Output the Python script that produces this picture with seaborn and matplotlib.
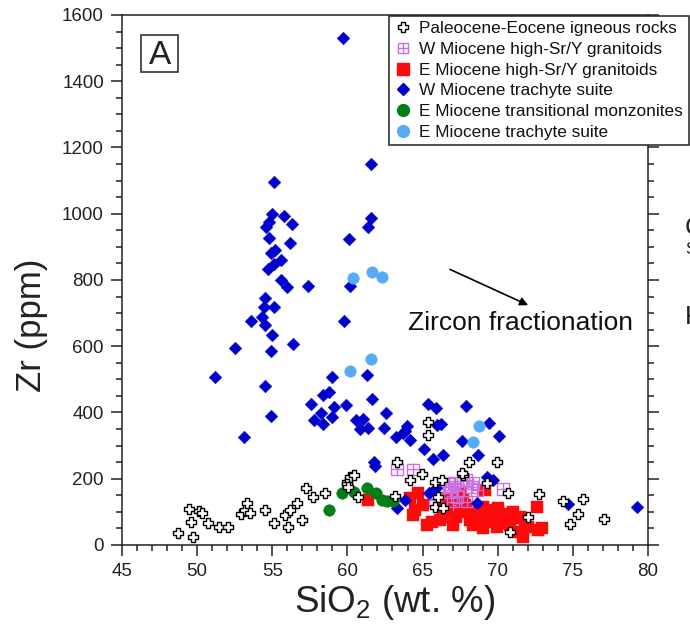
import matplotlib
matplotlib.use("Agg")
import matplotlib.pyplot as plt
from matplotlib.lines import Line2D
from matplotlib.legend_handler import HandlerTuple
from matplotlib.patches import Rectangle
import seaborn as sns

# --- data: SiO2 (wt.%) vs Zr (ppm) ---
pe_sio2 = [48.75, 49.46, 49.57, 49.7, 50.12, 50.34, 50.75, 51.45, 52.07, 52.9,
           53.18, 53.3, 53.52, 54.51, 55.11, 55.85, 56.18, 56.07, 56.62, 56.95,
           57.24, 57.73, 58.5, 59.95, 60.17, 60.43, 59.95, 60.06, 60.72, 63.16,
           63.32, 64.16, 64.94, 65.38, 65.38, 65.83, 66.27, 66.05, 65.83, 66.38,
           67.66, 68.1, 69.93, 69.27, 70.7, 72.03, 70.82, 72.77, 74.36, 75.65,
           75.36, 74.81, 77.09, 67.6]
pe_zr = [35, 110, 70, 25, 103, 96, 65, 53, 53, 94,
         106, 126, 97, 106, 65, 90, 106, 53, 128, 75,
         173, 146, 156, 191, 206, 211, 184, 176, 146, 148,
         251, 196, 214, 372, 332, 191, 196, 146, 116, 111,
         211, 251, 251, 186, 156, 85, 40, 154, 133, 138,
         94, 63, 78, 216]

wg_sio2 = [63.28, 64.38, 66.78, 66.89, 67.09, 67.71, 67.93, 68.38, 68.27, 66.82,
           67.38, 68.6, 65.83, 65.94, 67.27, 70.37, 67.93, 67.04]
wg_zr = [228, 228, 183, 176, 186, 194, 196, 186, 176, 161,
         166, 166, 136, 156, 146, 168, 131, 131]

eg_sio2 = [61.39, 64.16, 64.72, 64.49, 64.38, 65.27, 65.6, 66.16, 66.38, 66.38,
           66.6, 66.49, 67.04, 67.49, 67.71, 67.49, 68.04, 68.15, 68.38, 69.15,
           69.04, 68.93, 69.37, 69.7, 70.04, 70.26, 70.6, 71.04, 71.48, 71.37,
           71.71, 72.6, 72.71, 72.93, 69.93, 69.04, 68.71, 67.0, 67.8, 66.2,
           70.4, 71.0, 68.5, 65.0, 69.5, 70.8, 71.8, 72.0, 67.2]
eg_zr = [136, 141, 156, 106, 90, 60, 70, 75, 85, 141,
         121, 100, 60, 156, 136, 100, 111, 75, 60, 166,
         116, 80, 70, 106, 111, 75, 65, 80, 85, 40,
         25, 116, 45, 50, 55, 50, 100, 140, 120, 130,
         95, 100, 90, 120, 85, 60, 70, 55, 85]

wt_sio2 = [59.7, 61.6, 55.1, 55.0, 55.8, 61.6, 56.3, 54.8, 61.35, 54.6,
           60.1, 54.8, 56.2, 54.9, 55.2, 55.6, 55.1, 54.7, 55.6, 56.0,
           57.35, 60.2, 54.5, 54.45, 55.1, 54.3, 53.6, 59.8, 54.5, 55.0,
           56.4, 52.5, 54.9, 51.2, 59.0, 61.3, 54.5, 58.8, 58.4, 61.65,
           57.55, 59.9, 59.1, 58.25, 62.6, 54.9, 58.95, 61.05, 60.6, 57.75,
           58.35, 63.95, 60.85, 61.35, 62.45, 63.8, 63.7, 64.15, 63.25, 53.1,
           65.35, 65.9, 67.9, 65.95, 66.25, 69.4, 70.1, 67.6, 65.1, 65.7,
           66.35, 68.7, 61.75, 61.85, 69.3, 69.7, 65.4, 65.9, 63.85, 63.3,
           68.6, 74.65, 79.25]
wt_zr = [1530, 1151, 1097, 998, 992, 987, 968, 975, 960, 960,
         925, 928, 912, 882, 890, 860, 848, 833, 801, 779,
         782, 781, 747, 719, 717, 689, 677, 677, 663, 633,
         606, 596, 585, 508, 508, 513, 480, 462, 452, 442,
         425, 424, 417, 399, 399, 390, 385, 380, 377, 377,
         366, 359, 350, 353, 354, 345, 337, 317, 327, 327,
         425, 412, 420, 362, 366, 367, 329, 314, 290, 261,
         271, 271, 251, 238, 206, 196, 156, 173, 136, 111,
         128, 124, 116]

em_sio2 = [58.8, 59.66, 60.46, 61.28, 61.9, 62.28, 62.65, 63.01]
em_zr = [106, 156, 159, 171, 158, 136, 134, 133]

et_sio2 = [60.35, 61.63, 62.32, 61.6, 60.17, 68.75, 68.33]
et_zr = [805, 823, 810, 562, 524, 360, 312]

labels = ["Paleocene-Eocene igneous rocks",
          "W Miocene high-Sr/Y granitoids",
          "E Miocene high-Sr/Y granitoids",
          "W Miocene trachyte suite",
          "E Miocene transitional monzonites",
          "E Miocene trachyte suite"]

PURPLE = "#c96fe0"
RED = "#ff0a0a"
BLUE = "#0000cc"
GREEN = "#007f16"
LBLUE = "#57abf5"

sns.set_style("ticks")
plt.rcParams["font.family"] = ["Liberation Sans", "DejaVu Sans"]
plt.rcParams["mathtext.fontset"] = "custom"
plt.rcParams["mathtext.rm"] = "Liberation Sans"

fig = plt.figure(figsize=(6.90, 6.32), dpi=100)
ax = fig.add_axes([0.1768, 0.1377, 0.7623, 0.8386])

# E Miocene high-Sr/Y granitoids
sns.scatterplot(x=eg_sio2, y=eg_zr, ax=ax, marker="s", s=80, color=RED,
                edgecolor=RED, linewidth=0.3, legend=False, zorder=3)
# W Miocene high-Sr/Y granitoids: open square with inner cross
sns.scatterplot(x=wg_sio2, y=wg_zr, ax=ax, marker="s", s=72, color=PURPLE,
                facecolor="none", edgecolor=PURPLE, linewidth=1.0,
                legend=False, zorder=4)
sns.scatterplot(x=wg_sio2, y=wg_zr, ax=ax, marker="+", s=72, color=PURPLE,
                edgecolor=PURPLE, linewidth=1.0, legend=False, zorder=4)
# W Miocene trachyte suite
sns.scatterplot(x=wt_sio2, y=wt_zr, ax=ax, marker="D", s=42, color=BLUE,
                edgecolor=BLUE, linewidth=0.3, legend=False, zorder=5)
# E Miocene transitional monzonites
sns.scatterplot(x=em_sio2, y=em_zr, ax=ax, marker="o", s=70, color=GREEN,
                edgecolor=GREEN, linewidth=0.3, legend=False, zorder=5)
# Paleocene-Eocene igneous rocks
sns.scatterplot(x=pe_sio2, y=pe_zr, ax=ax, marker="P", s=58, color="white",
                edgecolor="black", linewidth=1.0, legend=False, zorder=6)
# E Miocene trachyte suite
sns.scatterplot(x=et_sio2, y=et_zr, ax=ax, marker="o", s=70, color=LBLUE,
                edgecolor=LBLUE, linewidth=0.3, legend=False, zorder=7)

ax.set_xlim(45, 80)
ax.set_ylim(0, 1600)
ax.set_xticks(range(45, 81, 5))
ax.set_xticks(range(45, 81, 1), minor=True)
ax.set_yticks(range(0, 1601, 200))
ax.set_yticks(range(0, 1601, 50), minor=True)
ax.tick_params(which="both", direction="out", color="#222", width=1.1,
               left=True, right=True, bottom=True, top=False,
               labelright=False, labelsize=13.5, labelcolor="#222")
ax.tick_params(which="major", length=8, pad=5)
ax.tick_params(which="minor", length=4.5)
for sp in ax.spines.values():
    sp.set_visible(True)
    sp.set_color("#222")
    sp.set_linewidth(1.1)

ax.set_xlabel("SiO$_2$ (wt. %)", fontsize=26.5, color="#222")
ax.set_ylabel("Zr (ppm)", fontsize=25, color="#222")
ax.xaxis.set_label_coords(0.519, -0.072)
ax.yaxis.set_label_coords(-0.141, 0.415)

# panel letter
ax.add_patch(Rectangle((0.0361, 0.8925), 0.0703, 0.0698, transform=ax.transAxes,
                       fill=True, fc="white", ec="#333", lw=1.2, zorder=8))
ax.text(0.0722, 0.9075, "A", transform=ax.transAxes, fontsize=24,
        ha="center", va="baseline", color="#222", zorder=9)

# zircon fractionation trend
ax.annotate("", xy=(72.03, 724), xytext=(66.82, 832),
            arrowprops=dict(arrowstyle="-|>", color="black", lw=1.2,
                            mutation_scale=12, shrinkA=0, shrinkB=0))
ax.text(64.03, 648, "Zircon fractionation", fontsize=19, ha="left",
        va="baseline", color="#111")

# legend
h_pe = Line2D([], [], ls="", marker="P", ms=7.5, mfc="white", mec="black", mew=1.0)
h_wg = (Line2D([], [], ls="", marker="s", ms=7.5, mfc="none", mec=PURPLE, mew=1.0),
        Line2D([], [], ls="", marker="+", ms=7.5, mec=PURPLE, mew=1.0))
h_eg = Line2D([], [], ls="", marker="s", ms=8.5, mfc=RED, mec=RED)
h_wt = Line2D([], [], ls="", marker="D", ms=6.2, mfc=BLUE, mec=BLUE)
h_em = Line2D([], [], ls="", marker="o", ms=8.5, mfc=GREEN, mec=GREEN)
h_et = Line2D([], [], ls="", marker="o", ms=8.5, mfc=LBLUE, mec=LBLUE)
leg = ax.legend([h_pe, h_wg, h_eg, h_wt, h_em, h_et], labels,
                loc="upper left", bbox_to_anchor=(0.5076, 0.999),
                borderaxespad=0, frameon=True, fancybox=False, framealpha=1,
                edgecolor="#222", fontsize=12.4, handlelength=1.0,
                handletextpad=0.45, labelspacing=0.33, borderpad=0.32,
                handler_map={tuple: HandlerTuple(ndivide=1, pad=0)})
leg.get_frame().set_linewidth(1.1)
leg.set_zorder(10)
for t in leg.get_texts():
    t.set_color("#111")

# neighbouring panel text cut at the figure edge
fig.text(685 / 690, 1 - 228 / 632, "C", fontsize=19, ha="left", va="center", color="#222")
fig.text(685 / 690, 1 - 250 / 632, "S", fontsize=12, ha="left", va="center", color="#222")
fig.text(685 / 690, 1 - 317 / 632, "K", fontsize=19, ha="left", va="center", color="#222")

fig.savefig("out.png", dpi=100)
